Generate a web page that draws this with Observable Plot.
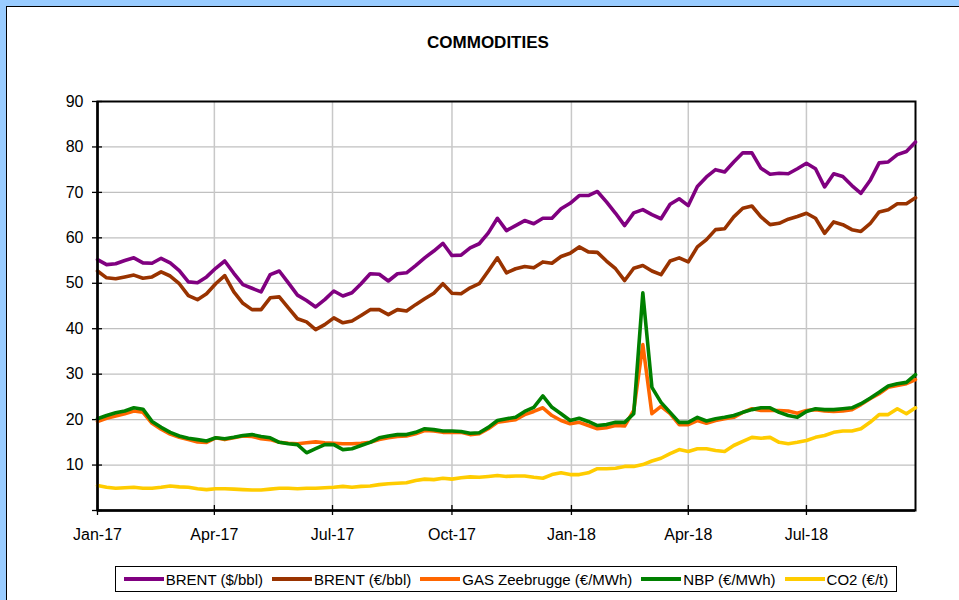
<!DOCTYPE html>
<html><head><meta charset="utf-8">
<script src="https://cdn.jsdelivr.net/npm/d3@7"></script>
<script src="https://cdn.jsdelivr.net/npm/@observablehq/plot@0.6"></script>
<style>
html,body{margin:0;padding:0;background:#99CCFF;overflow:hidden;width:959px;height:600px;}
#chart{position:absolute;left:6px;top:6px;width:1000px;height:700px;background:#fff;border:1px solid #000;font-family:"Liberation Sans",Arial,sans-serif;color:#000;}
#title{position:absolute;left:0;top:26px;width:962px;text-align:center;font-weight:bold;font-size:17px;line-height:20px;}
#plot{position:absolute;left:0;top:60px;}
#legend{position:absolute;left:108px;top:559px;width:782px;height:26px;box-sizing:border-box;border:1px solid #000;display:flex;align-items:center;justify-content:center;gap:9px;font-size:15px;}
.item{display:flex;align-items:center;gap:2px;white-space:nowrap;}
.sw{width:40px;height:4px;}
</style></head><body>
<div id="chart"><div id="title">COMMODITIES</div><div id="plot"></div><div id="legend"></div></div>
<script>
const seriesNames = ["BRENT ($/bbl)", "BRENT (€/bbl)", "GAS Zeebrugge (€/MWh)", "NBP (€/MWh)", "CO2 (€/t)"];
const seriesColors = ["#800080", "#993300", "#FF6600", "#008000", "#FFCC00"];

const brentUsd = [55.2,54.1,54.3,55.0,55.6,54.5,54.4,55.5,54.5,52.8,50.3,50.1,51.4,53.3,54.9,52.2,49.7,48.9,48.1,51.9,52.7,50.1,47.4,
46.2,44.8,46.4,48.3,47.2,47.9,49.9,52.1,52.0,50.5,52.1,52.3,53.9,55.6,57.1,58.8,56.1,56.2,57.8,58.7,61.1,64.3,61.6,
62.7,63.8,63.1,64.3,64.3,66.4,67.6,69.3,69.3,70.2,67.9,65.4,62.7,65.5,66.2,65.1,64.2,67.4,68.6,67.1,71.3,73.4,75.0,
74.5,76.7,78.7,78.7,75.3,74.0,74.2,74.1,75.2,76.4,75.2,71.2,74.1,73.5,71.5,69.8,72.6,76.5,76.7,78.3,79.0,81.1];
const brentEur = [52.7,51.2,51.0,51.4,51.8,51.1,51.4,52.5,51.6,49.9,47.3,46.4,47.7,49.9,51.7,48.1,45.6,44.2,44.2,46.8,47.0,44.6,42.2,
41.5,39.8,40.9,42.4,41.3,41.7,42.9,44.2,44.2,43.1,44.2,43.9,45.3,46.6,47.8,49.9,47.8,47.7,49.0,49.9,52.7,55.6,52.3,
53.2,53.7,53.4,54.7,54.4,55.9,56.6,58.0,56.9,56.8,54.9,53.2,50.6,53.3,53.9,52.7,51.9,54.9,55.6,54.7,58.0,59.6,61.8,
62.0,64.6,66.5,67.0,64.6,62.9,63.2,64.1,64.7,65.4,64.3,61.0,63.5,62.9,61.8,61.4,63.1,65.7,66.2,67.5,67.5,68.8];
const gasZee = [19.6,20.3,20.8,21.3,21.9,21.6,19.2,17.9,16.8,16.1,15.6,15.1,15.0,16.0,15.6,16.0,16.4,16.3,15.8,15.6,15.0,14.8,14.7,
14.9,15.1,14.9,14.8,14.7,14.7,14.8,15.0,15.6,16.0,16.3,16.4,16.9,17.6,17.5,17.2,17.2,17.2,16.7,16.9,18.0,19.4,19.7,
20.0,21.1,21.8,22.6,20.9,19.8,19.1,19.4,18.7,18.0,18.2,18.7,18.6,22.0,36.5,21.3,22.9,21.3,18.9,18.9,19.8,19.2,19.8,
20.2,20.5,21.6,22.4,22.0,22.0,22.0,21.9,21.4,22.0,22.2,21.9,21.8,21.9,22.2,23.3,24.6,25.7,27.1,27.5,27.9,28.8];
const nbp = [20.2,20.9,21.5,21.9,22.6,22.3,19.6,18.3,17.2,16.4,15.9,15.6,15.3,16.0,15.8,16.1,16.5,16.7,16.3,16.0,15.0,14.7,14.5,
12.7,13.6,14.5,14.5,13.4,13.6,14.3,15.0,16.0,16.4,16.7,16.7,17.2,18.0,17.8,17.5,17.5,17.4,17.0,17.1,18.3,19.8,20.2,
20.5,21.8,22.7,25.2,22.7,21.3,19.8,20.3,19.6,18.7,18.9,19.4,19.4,21.3,47.9,27.1,23.8,21.6,19.4,19.4,20.5,19.7,20.2,
20.5,20.9,21.6,22.2,22.6,22.6,21.6,20.9,20.5,21.8,22.4,22.2,22.2,22.4,22.6,23.5,24.7,26.0,27.4,27.9,28.2,29.9];
const co2 = [5.5,5.1,4.9,5.0,5.1,4.9,4.9,5.1,5.4,5.2,5.1,4.8,4.6,4.8,4.8,4.7,4.6,4.5,4.5,4.7,4.9,4.9,4.8,
4.9,4.9,5.0,5.1,5.3,5.1,5.3,5.4,5.7,5.9,6.0,6.1,6.6,6.9,6.8,7.1,6.9,7.2,7.4,7.3,7.5,7.7,7.5,
7.6,7.6,7.3,7.1,7.9,8.3,7.9,7.9,8.3,9.2,9.2,9.3,9.7,9.7,10.1,10.9,11.5,12.5,13.4,13.0,13.6,13.6,13.2,
13.0,14.3,15.2,16.1,15.9,16.1,15.0,14.7,15.0,15.4,16.1,16.5,17.2,17.5,17.5,18.0,19.4,21.1,21.1,22.4,21.3,22.6];

const xTickDates = ["2017-01-01","2017-04-01","2017-07-01","2017-10-01","2018-01-01","2018-04-01","2018-07-01"].map(s => new Date(s + "T00:00:00Z"));
const yTicks = [0,10,20,30,40,50,60,70,80,90];
const yLabels = [10,20,30,40,50,60,70,80,90];

// weekly observation dates (Sundays), Jan 2017 – Sep 2018
const dates = d3.utcSunday.range(new Date(Date.UTC(2017,0,1)), new Date(Date.UTC(2018,8,24)));
const seriesValues = [brentUsd, brentEur, gasZee, nbp, co2];
const rows = seriesNames.flatMap((name, s) => seriesValues[s].map((v, i) => ({date: dates[i], value: v, name})));

const font = "Liberation Sans, Arial, sans-serif";
const plot = Plot.plot({
  width: 952, height: 480,
  marginLeft: 90, marginRight: 44, marginTop: 34, marginBottom: 37,
  style: {background: "transparent", fontFamily: font, fontSize: "16px", color: "#000", overflow: "visible"},
  x: {type: "utc", domain: [dates[0], dates[dates.length - 1]], label: null},
  y: {domain: [0, 90], label: null},
  marks: [
    Plot.gridY(yLabels.slice(0, -1), {stroke: "#c0c0c0", strokeOpacity: 1, strokeWidth: 1.3}),
    Plot.gridX(xTickDates.slice(1), {stroke: "#c8c8c8", strokeOpacity: 1, strokeWidth: 1.5}),
    Plot.frame({stroke: "#000", strokeWidth: 2}),
    Plot.ruleY(yTicks, {y: d => d, x1: dates[0], x2: dates[0], insetLeft: -5, insetRight: -5, stroke: "#000", strokeWidth: 1.3}),
    Plot.ruleX(xTickDates, {x: d => d, y1: 0, y2: 0, insetTop: -5, insetBottom: -5, stroke: "#000", strokeWidth: 1.3}),
    Plot.axisY(yLabels, {tickSize: 0, tickPadding: 14, fill: "#000"}),
    Plot.axisX(xTickDates, {tickSize: 0, tickPadding: 18, tickFormat: d3.utcFormat("%b-%y"), fill: "#000"}),
    ...seriesNames.map((name, s) => Plot.line(rows.filter(r => r.name === name), {x: "date", y: "value", stroke: seriesColors[s], strokeWidth: 3.6})),
    Plot.ruleX([dates[0]], {stroke: "#000", strokeWidth: 2.5}),
    Plot.ruleY([0], {stroke: "#000", strokeWidth: 2.5})
  ]
});
document.getElementById("plot").appendChild(plot);

const legend = document.getElementById("legend");
seriesNames.forEach((name, s) => {
  const item = document.createElement("div");
  item.className = "item";
  const sw = document.createElement("div");
  sw.className = "sw";
  sw.style.background = seriesColors[s];
  const t = document.createElement("span");
  t.textContent = name;
  item.appendChild(sw); item.appendChild(t);
  legend.appendChild(item);
});
</script>
</body></html>
